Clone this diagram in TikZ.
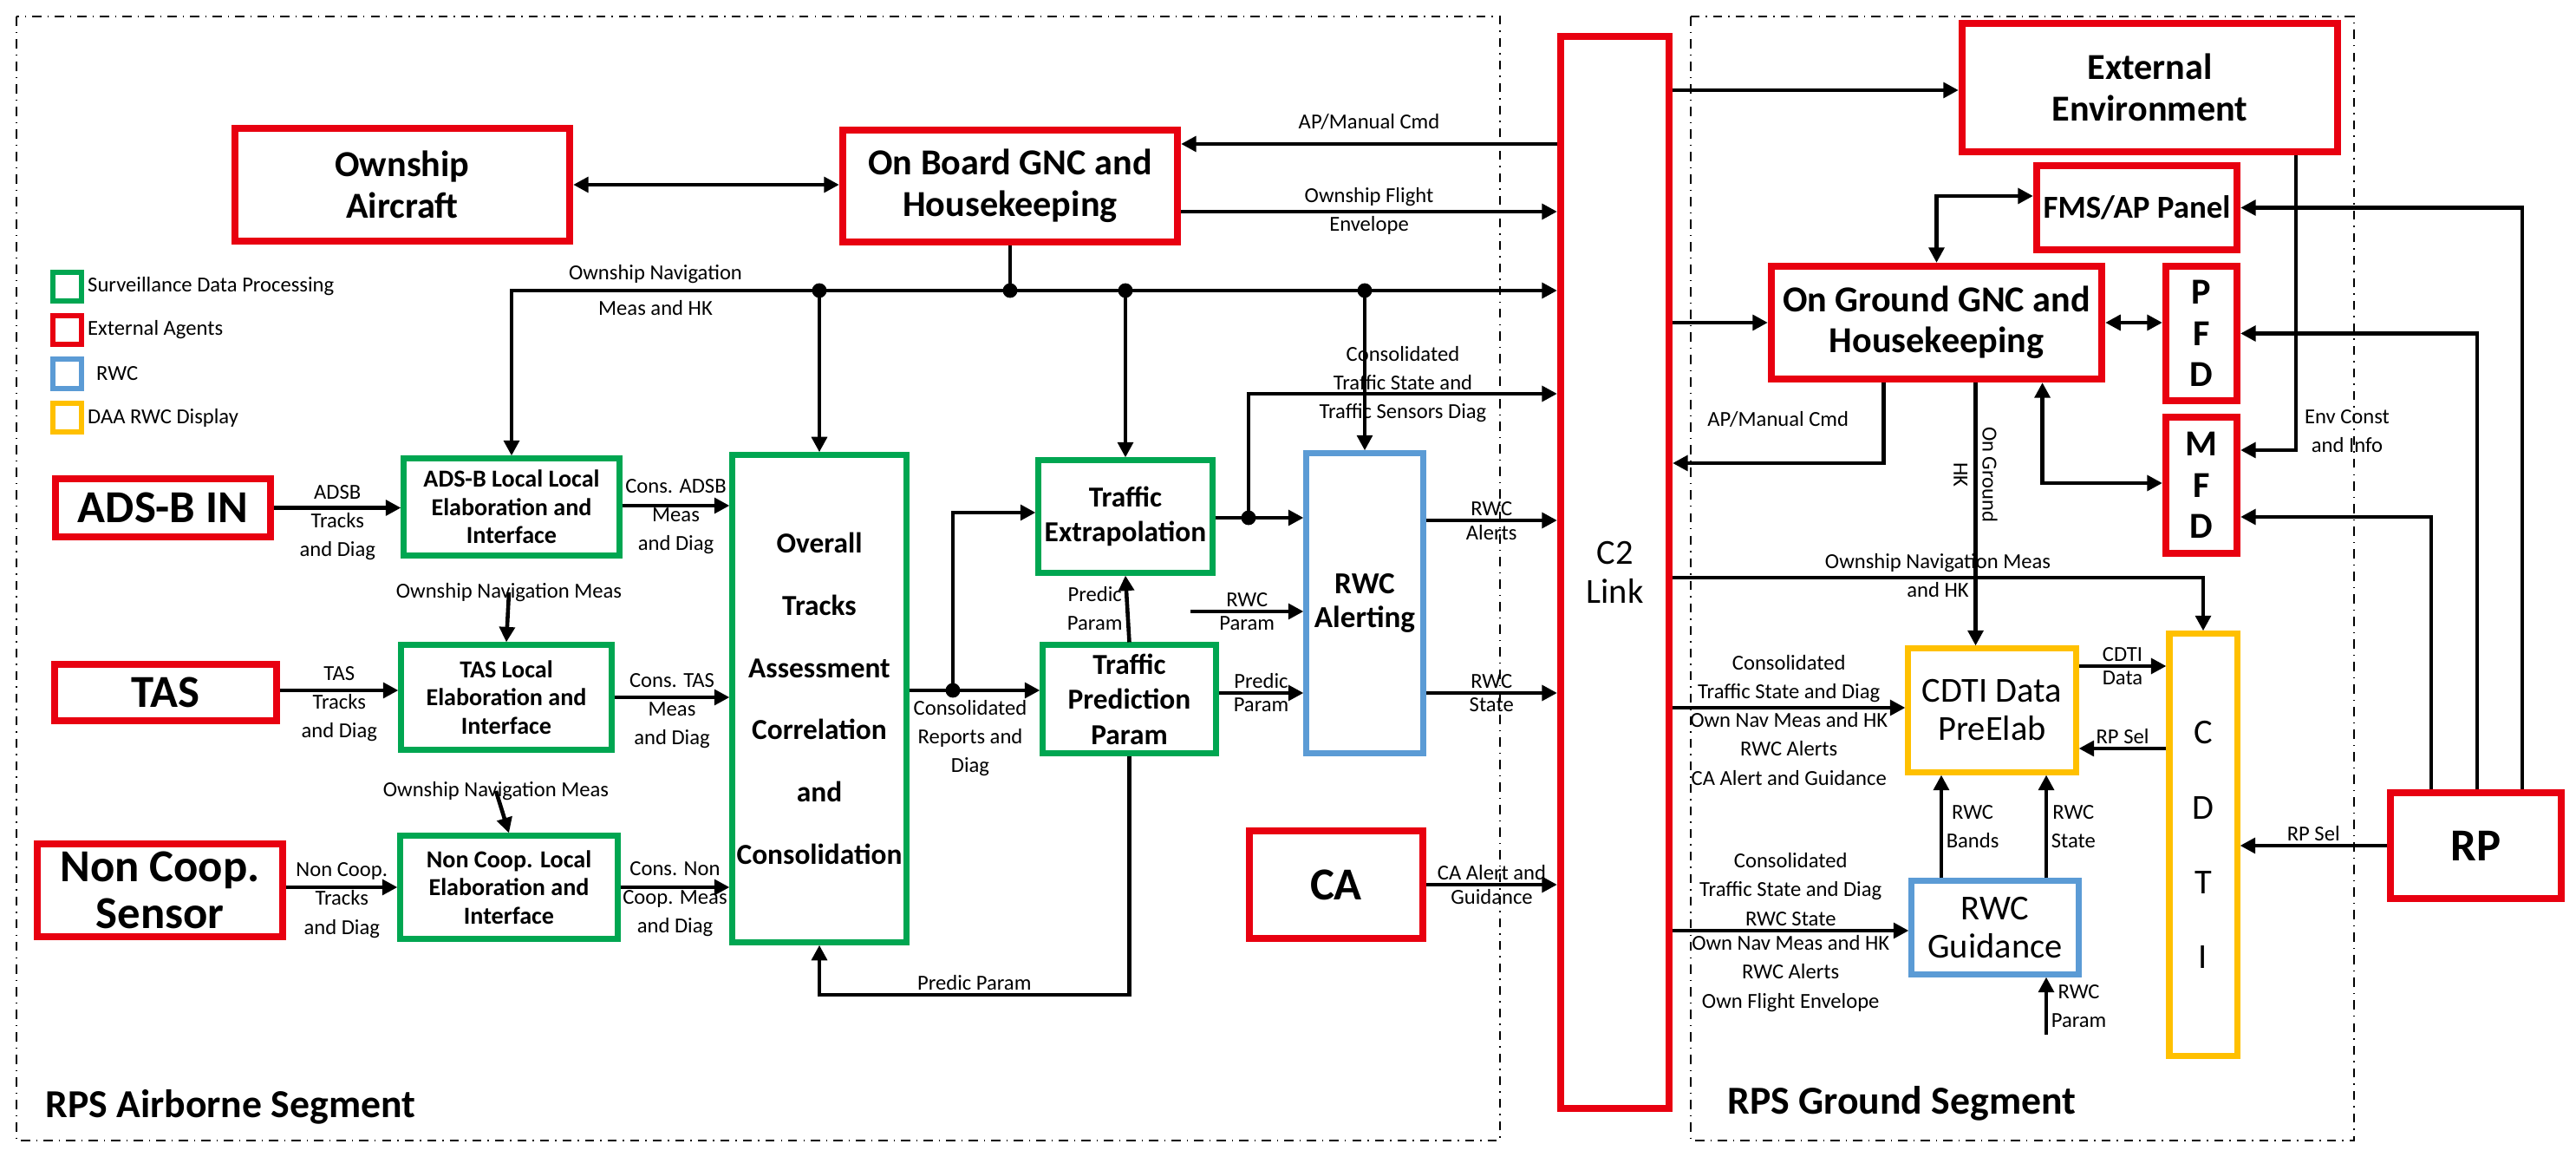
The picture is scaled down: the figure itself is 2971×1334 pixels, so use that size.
\documentclass[tikz,border=0pt]{standalone}
\usepackage{fontspec}
\setmainfont{Carlito}
\usetikzlibrary{arrows.meta,positioning}
\definecolor{agentred}{RGB}{232,0,16}
\definecolor{procgreen}{RGB}{0,166,81}
\definecolor{rwcblue}{RGB}{91,155,213}
\definecolor{dispyellow}{RGB}{255,192,0}
\begin{document}
\begin{tikzpicture}[x=0.01cm, y=-0.01cm,
    box/.style={draw, line width=2pt, fill=white, inner sep=0pt, align=center},
    agent/.style={box, draw=agentred, line width=2.3pt, font=\bfseries\fontsize{12}{13.5}\selectfont},
    bigagent/.style={agent, font=\bfseries\fontsize{15}{15.5}\selectfont},
    proc/.style={box, draw=procgreen, font=\bfseries\fontsize{8}{9.2}\selectfont},
    rwc/.style={box, draw=rwcblue, font=\fontsize{11.5}{12.5}\selectfont},
    disp/.style={box, draw=dispyellow, font=\fontsize{11.5}{12.5}\selectfont},
    lbl/.style={font=\fontsize{7}{9.4}\selectfont, align=center, inner sep=1pt},
    flow/.style={line width=1.3pt, -{Triangle[length=5pt,width=5pt]}},
    twoway/.style={line width=1.3pt, {Triangle[length=5pt,width=5pt]}-{Triangle[length=5pt,width=5pt]}},
    seg/.style={thin, dash dot},
    dot/.style={fill, radius=2.4pt},
  ]
\useasboundingbox (0,0) rectangle (2971,1334);

% segments
\draw[seg] (19,19) rectangle (1730,1315);
\draw[seg] (1950,19) rectangle (2715,1315);
\node[anchor=west, font=\bfseries\fontsize{13}{14}\selectfont] (airseg) at (40,1276) {RPS Airborne Segment};
\node[anchor=west, font=\bfseries\fontsize{13}{14}\selectfont] (gndseg) at (1980,1272) {RPS Ground Segment};

% legend
\draw[procgreen, line width=1.5pt] (61,314) rectangle (94,347);
\draw[agentred, line width=1.5pt] (61,364) rectangle (94,397);
\draw[rwcblue, line width=1.5pt] (61,414) rectangle (94,448);
\draw[dispyellow, line width=1.5pt] (61,465) rectangle (94,498);
\node[lbl, anchor=west] (legproc) at (97,330) {Surveillance Data Processing};
\node[lbl, anchor=west] (legagent) at (97,380) {External Agents};
\node[lbl, anchor=west] (legrwc) at (107,431) {RWC};
\node[lbl, anchor=west] (legdisp) at (97,482) {DAA RWC Display};

% airborne blocks
\node[agent, minimum width=3.86cm, minimum height=1.30cm] (own) at (464,213) {Ownship\\Aircraft};
\node[agent, minimum width=3.86cm, minimum height=1.29cm] (obgnc) at (1165,214.5) {On Board GNC and\\Housekeeping};
\node[bigagent, minimum width=2.48cm, minimum height=0.67cm] (adsb) at (188,585.5) {ADS-B IN};
\node[bigagent, minimum width=2.56cm, minimum height=0.65cm] (tas) at (191,798.5) {TAS};
\node[bigagent, minimum width=2.83cm, minimum height=1.07cm] (nc) at (184.5,1026.5) {Non Coop.\\Sensor};
\node[proc, minimum width=2.48cm, minimum height=1.11cm] (adsbl) at (590,584.5) {ADS-B Local Local\\Elaboration and\\Interface};
\node[proc, minimum width=2.42cm, minimum height=1.20cm] (tasl) at (584,804) {TAS Local\\Elaboration and\\Interface};
\node[proc, minimum width=2.50cm, minimum height=1.18cm] (ncl) at (587,1023) {Non Coop. Local\\Elaboration and\\Interface};
\node[proc, font=\bfseries\fontsize{9.5}{11.4}\selectfont, minimum width=2.00cm, minimum height=5.61cm] (ovr) at (945,805.5)
  {Overall\\[9pt]Tracks\\[9pt]Assessment\\[9pt]Correlation\\[9pt]and\\[9pt]Consolidation};
\node[proc, font=\bfseries\fontsize{9.5}{11.5}\selectfont, minimum width=2.00cm, minimum height=1.29cm] (te) at (1298,595.5) {Traffic\\Extrapolation};
\node[proc, font=\bfseries\fontsize{9.5}{11.5}\selectfont, minimum width=1.99cm, minimum height=1.24cm] (tpp) at (1302.5,806) {Traffic\\Prediction\\Param};
\node[rwc, font=\bfseries\fontsize{10}{11}\selectfont, minimum width=1.34cm, minimum height=3.45cm] (rwca) at (1574,695.5) {RWC\\Alerting};
\node[bigagent, minimum width=2.00cm, minimum height=1.24cm] (ca) at (1541,1020) {CA};
\node[agent, font=\fontsize{11.5}{13}\selectfont, minimum width=1.25cm, minimum height=12.36cm] (c2) at (1862.5,660) {C2\\Link};

% ground blocks
\node[agent, minimum width=4.33cm, minimum height=1.48cm] (ext) at (2479.5,101) {External\\Environment};
\node[agent, font=\bfseries\fontsize{10.5}{12}\selectfont, minimum width=2.31cm, minimum height=0.97cm] (fms) at (2464.5,239.5) {FMS/AP Panel};
\node[agent, minimum width=3.81cm, minimum height=1.30cm] (ogn) at (2233.5,372) {On Ground GNC and\\Housekeeping};
\node[agent, minimum width=0.82cm, minimum height=1.55cm] (pfd) at (2539,384.5) {P\\F\\D};
\node[agent, minimum width=0.82cm, minimum height=1.57cm] (mfd) at (2539,559.5) {M\\F\\D};
\node[disp, minimum width=0.78cm, minimum height=4.86cm] (cdti) at (2541,974) {C\\[12pt]D\\[12pt]T\\[12pt]I};
\node[disp, minimum width=1.93cm, minimum height=1.42cm] (pre) at (2297.5,819) {CDTI Data\\PreElab};
\node[rwc, minimum width=1.92cm, minimum height=1.07cm] (rwcg) at (2301,1069.5) {RWC\\Guidance};
\node[bigagent, minimum width=1.97cm, minimum height=1.22cm] (rp) at (2855.5,975) {RP};

% airborne connectors
\draw[twoway] (own.east) -- (own.east -| obgnc.west);
\draw[flow] (c2.west |- 0,166) -- (obgnc.east |- 0,166) node[midway, above=3pt, lbl] {AP/Manual Cmd};
\draw[flow] (obgnc.east |- 0,244) -- (c2.west |- 0,244)
  node[midway, above, lbl] {Ownship Flight} node[midway, below, lbl] {Envelope};
\coordinate (nb) at (obgnc.south |- 0,335);
\draw[line width=1.3pt] (obgnc.south) -- (nb);
\draw[flow] (nb) -- (c2.west |- nb);
\draw[flow] (nb) -| (adsbl.north);
\node[lbl] (navlbl) at (756,316) {Ownship Navigation};
\node[lbl] (navlbl2) at (756,355) {Meas and HK};
\foreach \tgt in {ovr, te, rwca}
  \draw[flow] (\tgt.north |- nb) -- (\tgt.north);
\foreach \tgt in {ovr, te, rwca}
  \fill (\tgt.north |- nb) circle (2.4pt);
\fill (nb) circle (2.4pt);

\draw[flow] (adsb.east) -- (adsb.east -| adsbl.west) node[midway, lbl, yshift=-4.8pt] {ADSB\\Tracks\\and Diag};
\draw[flow] (adsbl.east |- 0,583) -- (ovr.west |- 0,583) node[midway, lbl, yshift=-3.7pt] {Cons. ADSB\\Meas\\and Diag};
\node[lbl] (navtas) at (587,683) {Ownship Navigation Meas};
\draw[flow] (navtas.center) -- (tasl.north);
\draw[flow] (tas.east |- 0,796) -- (tasl.west |- 0,796) node[midway, lbl, yshift=-4.5pt] {TAS\\Tracks\\and Diag};
\draw[flow] (tasl.east |- 0,804) -- (ovr.west |- 0,804) node[midway, lbl, yshift=-4.5pt] {Cons. TAS\\Meas\\and Diag};
\node[lbl] (navnc) at (572,912) {Ownship Navigation Meas};
\draw[flow] (navnc.center) -- (ncl.north);
\draw[flow] (nc.east |- 0,1023) -- (ncl.west |- 0,1023) node[midway, lbl, yshift=-4.3pt] {Non Coop.\\Tracks\\and Diag};
\draw[flow] (ncl.east |- 0,1023) -- (ovr.west |- 0,1023) node[midway, lbl, yshift=-3.8pt] {Cons. Non\\Coop. Meas\\and Diag};

\coordinate (cr) at (1099,796);
\draw[flow] (ovr.east |- cr) -- (tpp.west |- cr);
\draw[flow] (cr) |- (te.west |- 0,591);
\fill (cr) circle (2.4pt);
\node[lbl] (crlbl) at (1119,851) {Consolidated\\Reports and\\Diag};
\draw[flow] (tpp.south) -- (tpp.south |- 0,1147) -| (ovr.south) node[pos=0.25, above, lbl] {Predic Param};
\draw[flow] (tpp.north) -- (te.south) node[midway, left, lbl] {Predic\\Param};
\coordinate (rwcp) at (1373,705);
\draw[flow] (rwcp) -- (rwca.west |- rwcp) node[midway, above, lbl] {RWC} node[midway, below, lbl] {Param};
\draw[flow] (tpp.east |- 0,799) -- (rwca.west |- 0,799) node[midway, above, lbl] {Predic} node[midway, below, lbl] {Param};
\coordinate (td) at (1440,597);
\draw[flow] (te.east |- td) -- (rwca.west |- td);
\draw[flow] (td) |- (c2.west |- 0,454) node[pos=0.75, lbl, yshift=3pt] {Consolidated\\Traffic State and\\Traffic Sensors Diag};
\fill (td) circle (2.4pt);
\draw[flow] (rwca.east |- 0,600) -- (c2.west |- 0,600) node[midway, above, lbl] {RWC} node[midway, below, lbl] {Alerts};
\draw[flow] (rwca.east |- 0,799) -- (c2.west |- 0,799) node[midway, above, lbl] {RWC} node[midway, below, lbl] {State};
\draw[flow] (ca.east) -- (c2.west |- ca.east) node[midway, above, lbl] {CA Alert and} node[midway, below, lbl] {Guidance};

% ground connectors
\draw[flow] (c2.east |- 0,104) -- (ext.west |- 0,104);
\draw[flow] (c2.east |- ogn.west) -- (ogn.west);
\draw[twoway] (ogn.north) |- (fms.west |- 0,226);
\draw[twoway] (ogn.east) -- (pfd.west |- ogn.east);
\draw[flow] ([xshift=-0.61cm]ogn.south) |- (c2.east |- 0,534) node[pos=0.75, above=10pt, lbl] {AP/Manual Cmd};
\draw[flow] ([xshift=0.45cm]ogn.south) -- ([xshift=0.45cm]ogn.south |- pre.north)
  node[pos=0.35, lbl, rotate=-90] {On Ground\\HK};
\draw[twoway] ([xshift=1.22cm]ogn.south) |- (mfd.west |- 0,557);
\draw[flow] ([xshift=1.685cm]ext.south) |- (mfd.east |- 0,519);
\node[lbl] (envlbl) at (2707,497) {Env Const\\and Info};
\draw[flow] ([xshift=0.535cm]rp.north) |- (fms.east);
\draw[flow] ([xshift=0.015cm]rp.north) |- (pfd.east);
\draw[flow] ([xshift=-0.515cm]rp.north) |- (mfd.east |- 0,596);
\draw[flow] (c2.east |- 0,666) -| (cdti.north)
  node[pos=0.25, above, lbl] {Ownship Navigation Meas} node[pos=0.25, below, lbl] {and HK};
\draw[flow] (c2.east |- 0,816) -- (pre.west |- 0,816)
  node[midway, above, lbl] {Consolidated\\Traffic State and Diag}
  node[midway, below, lbl] {Own Nav Meas and HK\\RWC Alerts\\CA Alert and Guidance};
\draw[flow] (pre.east |- 0,768) -- (cdti.west |- 0,768) node[midway, above, lbl] {CDTI} node[midway, below, lbl] {Data};
\draw[flow] (cdti.west |- 0,863) -- (pre.east |- 0,863) node[midway, above, lbl] {RP Sel};
\draw[flow] ([xshift=-0.62cm]rwcg.north) -- ([xshift=-0.62cm]rwcg.north |- pre.south) node[midway, right, lbl] {RWC\\Bands};
\draw[flow] ([xshift=0.59cm]rwcg.north) -- ([xshift=0.59cm]rwcg.north |- pre.south) node[midway, right, lbl] {RWC\\State};
\draw[flow] (c2.east |- 0,1073) -- (rwcg.west |- 0,1073)
  node[midway, above, lbl] {Consolidated\\Traffic State and Diag\\RWC State}
  node[midway, below, lbl] {Own Nav Meas and HK\\RWC Alerts\\Own Flight Envelope};
\coordinate (rgp) at (2360,1193);
\draw[flow] (rgp) -- (rgp |- rwcg.south) node[midway, right, lbl] {RWC\\Param};
\draw[flow] (rp.west) -- (cdti.east |- rp.west) node[midway, above, lbl] {RP Sel};
\end{tikzpicture}
\end{document}
